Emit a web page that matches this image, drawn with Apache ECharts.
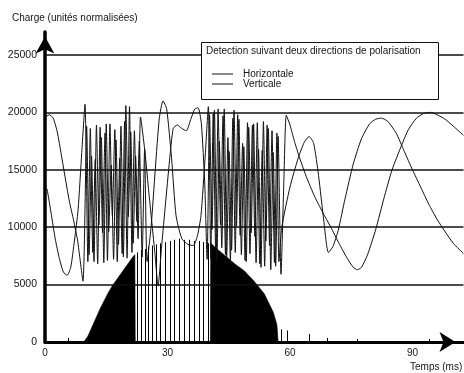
<!DOCTYPE html>
<html><head><meta charset="utf-8">
<script src="https://cdn.jsdelivr.net/npm/echarts@6/dist/echarts.min.js"></script>
<style>html,body{margin:0;padding:0;background:#fff}#c{width:464px;height:373px}</style>
</head><body><div id="c"></div>
<script>
// x ticks (ms) and y ticks (charge)
const xTicks = [0, 30, 60, 90];
const yTicks = [0, 5000, 10000, 15000, 20000, 25000];
const seriesNames = ['Horizontale', 'Verticale'];

// [time ms, charge]
const horizontale = [
 [0,19500],[1,19800],[2,19500],[3,18300],[4,16300],[5,14200],[6,12200],[7,10600],[8,8800],[9.3,5300],
 [10.2,18800],[10.8,7600],[11.4,16200],[12,7000],[12.6,18900],[13.2,10200],[13.8,17800],[14.4,6900],
 [15,19000],[15.6,9600],[16.2,15400],[16.8,7200],[17.4,17600],[18,8500],[18.6,18800],[19.2,7400],
 [19.8,20600],[20.4,10900],[21,18300],[21.6,8600],[22.2,16200],[22.8,9000],[23.4,19600],[24.5,16500],
 [25.3,13500],[26,11000],[26.9,7800],[27.7,4900],[28.6,8500],[29.5,12000],[30.5,15800],[31.4,18600],
 [32.4,18900],[33.5,18600],[34.6,18400],[35.8,19500],[36.7,20300],[37.5,20400],[38.3,19000],
 [39.1,14000],[39.7,7200],[40.3,19800],[40.9,9800],[41.5,20200],[42.1,7000],[42.7,17500],[43.3,8200],
 [43.9,20300],[44.5,7400],[45.1,16600],[45.7,8000],[46.3,20200],[46.9,10100],[47.5,19400],[48.1,7600],
 [48.7,17000],[49.3,7000],[49.9,18700],[50.5,9500],[51.1,19000],[51.7,6900],[52.3,16800],[52.9,6500],
 [53.5,19200],[54.1,8800],[54.7,18600],[55.3,6300],[55.9,16500],[56.5,6600],[57.1,17900],[57.8,5900],
 [58.5,14000],[59.1,19750],[60,18900],[61,17600],[62.3,16100],[64,14400],[66,12700],[68,11300],
 [70,10000],[72,8600],[74,7300],[75.5,6500],[76.5,6300],[77.5,6500],[79,7600],[81,9800],[83,12500],
 [85,15000],[87.3,17100],[89,18500],[91,19500],[92.7,19900],[94.4,20000],[96,19800],[98,19400],
 [100,18800],[102.5,18000]
];
const verticale = [
 [0,13500],[0.5,13300],[1.5,11200],[2.5,9000],[3.5,7300],[4.5,6100],[5.4,5800],[6.3,6500],[7.2,8800],
 [8.1,11500],[9,16500],[9.8,20700],[10.5,7000],[11.1,18600],[11.7,7800],[12.3,15900],[12.9,6800],
 [13.5,18700],[14.1,9500],[14.7,18200],[15.3,7100],[15.9,19000],[16.5,11000],[17.1,18500],[17.7,7000],
 [18.3,16000],[18.9,7700],[19.5,19200],[20.1,7300],[20.7,20500],[21.3,7800],[21.9,18400],[22.5,10500],
 [23.1,17500],[23.8,7400],[24.4,16800],[25,7000],[26,10100],[27,15000],[28,19500],[28.9,21000],
 [29.8,20300],[31,16000],[32.1,11000],[33.5,9000],[35,8500],[36.3,8400],[37.3,9200],[38.2,11000],
 [39.2,16000],[40,20500],[40.6,7300],[41.2,19900],[41.8,8000],[42.4,20300],[43,10200],[43.6,19700],
 [44.2,7600],[44.8,17800],[45.4,7000],[46,19500],[46.6,7800],[47.2,19800],[47.8,9300],[48.4,17300],
 [49,7100],[49.6,19100],[50.2,7700],[50.8,18900],[51.4,9200],[52,19100],[52.6,6800],[53.2,16700],
 [53.8,6600],[54.4,18900],[55,8400],[55.6,18400],[56.2,6900],[56.8,18200],[57.3,7000],[58,10000],
 [60,13500],[62,16000],[63.5,17400],[64.7,17900],[65.8,17300],[67,14500],[68.3,10500],[69.4,7800],
 [70.5,8300],[71.8,9700],[73.5,12500],[75.5,15500],[77.5,17700],[79.5,19000],[81,19400],[82.4,19500],
 [84,19200],[86,18200],[88,16600],[90,15000],[92,13500],[94,12000],[96,10700],[98,9600],[100,8600],
 [102.5,7700]
];
// charge envelope of the dense pulse trains
const chargeFillLeft = [
 [9.5,0],[10.5,500],[11.5,1300],[12.5,2100],[13.5,2900],[14.5,3600],[15.5,4300],[16.5,4900],
 [17.5,5400],[18.5,5900],[19.5,6400],[20.5,6900],[21.5,7400],[22,7600],[22.1,0]
];
const chargeFillRight = [
 [40.5,0],[40.6,8600],[42.5,8000],[44.5,7400],[46.5,6800],[48.8,6200],[51.2,5300],[53.7,4200],
 [55.9,2600],[56.8,1500],[57.1,0]
];
// isolated charge pulses
const chargeBars = [
 [5.6,350],[22.6,7800],[23.5,8000],[24.4,8100],[25.3,8300],[26.2,8400],[27.1,8500],[28.1,8600],
 [29.3,8700],[30.5,8800],[31.7,8900],[32.9,9000],[34.1,8900],[35.3,8900],[36.4,8800],[37.6,8800],
 [38.8,8700],[39.9,8600],[57.8,1100],[59.3,1000],[64.7,700],[69.1,350],[76.5,250],[94.1,250]
];

const font = 'Liberation Sans, Arial, sans-serif';
const ink = '#151515';
const chart = echarts.init(document.getElementById('c'), null, {renderer: 'canvas'});
const fillSeries = (name, data) => ({
  name, type: 'line', data, symbol: 'none', silent: true, z: 1,
  lineStyle: {color: '#000', width: 0.6}, areaStyle: {color: '#000', opacity: 1}
});
chart.setOption({
  animation: false,
  backgroundColor: '#fff',
  color: ['#111', '#111'],
  grid: {left: 45, right: 0.5, top: 32, bottom: 31, containLabel: false},
  title: [
    {text: 'Charge (unités normalisées)', left: 12, top: 13, padding: 0,
     textStyle: {fontFamily: font, fontSize: 10, fontWeight: 'normal', color: ink}},
    {text: 'Temps (ms)', left: 410, top: 362, padding: 0,
     textStyle: {fontFamily: font, fontSize: 10, fontWeight: 'normal', color: ink}},
    {text: 'Detection suivant deux directions de polarisation', left: 206, top: 46, padding: 0, z: 110,
     textStyle: {fontFamily: font, fontSize: 10, fontWeight: 'normal', color: ink}}
  ],
  legend: {
    data: seriesNames, orient: 'vertical', left: 212, top: 69, padding: 0, z: 110,
    icon: 'rect', itemWidth: 21, itemHeight: 1, itemGap: 0,
    itemStyle: {color: '#111'},
    textStyle: {fontFamily: font, fontSize: 10, color: ink, padding: [0, 0, 0, 5]}
  },
  graphic: [{
    type: 'rect', z: 100, silent: true,
    shape: {x: 201.5, y: 42.5, width: 237, height: 57},
    style: {fill: '#fff', stroke: '#111', lineWidth: 1}
  }],
  xAxis: {
    type: 'value', min: xTicks[0], max: 102.5, interval: xTicks[1] - xTicks[0], z: 10,
    axisLine: {show: true, onZero: false, lineStyle: {color: '#000', width: 3},
      symbol: ['none', 'arrow'], symbolSize: [15, 16], symbolOffset: [0, -8]},
    axisTick: {show: false},
    axisLabel: {margin: 6, showMaxLabel: false, fontFamily: font, fontSize: 10, color: ink,
      formatter: (v) => String(v)},
    splitLine: {show: false}
  },
  yAxis: {
    type: 'value', min: yTicks[0], max: 27000, interval: yTicks[1] - yTicks[0], offset: 3, z: 10,
    axisLine: {show: true, lineStyle: {color: '#000', width: 3.5},
      symbol: ['none', 'arrow'], symbolSize: [14, 17], symbolOffset: [0, -4.5]},
    axisTick: {show: false},
    axisLabel: {margin: 5, showMaxLabel: false, fontFamily: font, fontSize: 10.5, color: ink,
      formatter: (v) => String(v)},
    splitLine: {show: true, showMaxLine: false, showMinLine: false, lineStyle: {color: '#111', width: 1.5}}
  },
  series: [
    fillSeries('fillL', chargeFillLeft),
    fillSeries('fillR', chargeFillRight),
    {name: 'pulses', type: 'custom', data: chargeBars, silent: true, z: 2, encode: {x: 0, y: 1},
     renderItem: (params, api) => {
       const base = api.coord([api.value(0), 0]);
       const top = api.coord([api.value(0), api.value(1)]);
       const x = Math.round(base[0]) + 0.5;
       return {type: 'line', shape: {x1: x, y1: base[1], x2: x, y2: top[1]},
               style: {stroke: '#000', lineWidth: 1, fill: null}};
     }},
    {name: seriesNames[0], type: 'line', data: horizontale, symbol: 'none', smooth: 0.2, z: 3,
     lineStyle: {color: '#111', width: 1}},
    {name: seriesNames[1], type: 'line', data: verticale, symbol: 'none', smooth: 0.2, z: 3,
     lineStyle: {color: '#111', width: 1}}
  ]
});
</script></body></html>
